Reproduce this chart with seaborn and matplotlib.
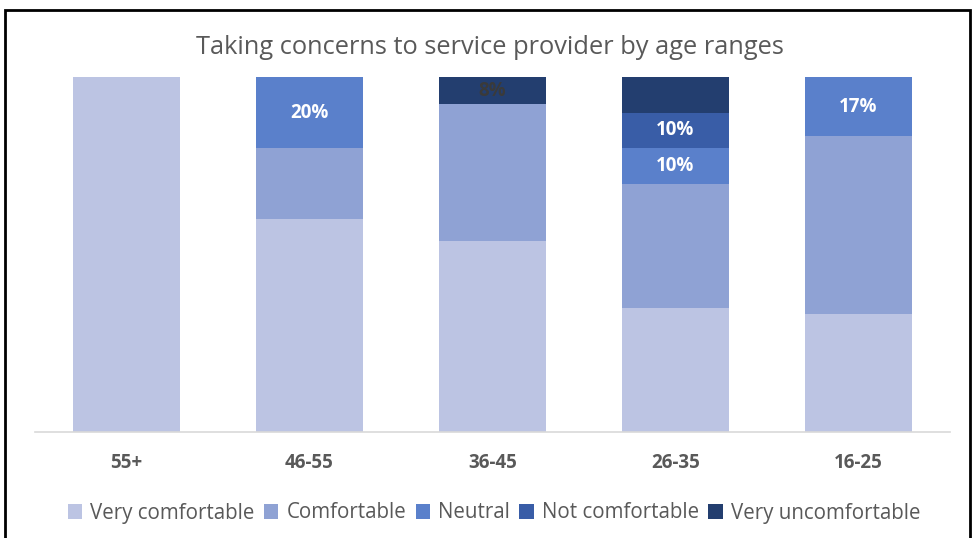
import matplotlib
matplotlib.use("Agg")
import matplotlib.pyplot as plt
from matplotlib.patches import Rectangle
import seaborn as sns
import pandas as pd

# Share of respondents (%) per age range and comfort level
categories = ["55+", "46-55", "36-45", "26-35", "16-25"]
very_comfortable = [100.0, 60.0, 53.8, 35.0, 33.3]
comfortable = [0.0, 20.0, 38.5, 35.0, 50.0]
neutral = [0.0, 20.0, 0.0, 10.0, 16.7]
not_comfortable = [0.0, 0.0, 0.0, 10.0, 0.0]
very_uncomfortable = [0.0, 0.0, 7.7, 10.0, 0.0]

series_names = ["Very comfortable", "Comfortable", "Neutral",
                "Not comfortable", "Very uncomfortable"]
series_values = [very_comfortable, comfortable, neutral,
                 not_comfortable, very_uncomfortable]
colors = ["#BCC4E3", "#8FA2D4", "#5A80CB", "#395DA7", "#233E6F"]

# segments that carry a data label: (series index, category index, text colour)
labelled = [(2, 1, "white"), (2, 3, "white"), (2, 4, "white"),
            (3, 3, "white"), (4, 2, "#3A3A3A")]

sns.set_theme(style="white")
plt.rcParams["font.family"] = ["Open Sans", "DejaVu Sans"]

fig = plt.figure(figsize=(9.73, 5.38), dpi=100)
ax = fig.add_axes([35 / 973, 1 - 432 / 538, 915 / 973, 355 / 538])

bottom = [0.0] * len(categories)
bottoms = []
for name, vals, col in zip(series_names, series_values, colors):
    df = pd.DataFrame({"age": categories, "pct": vals})
    sns.barplot(data=df, x="age", y="pct", order=categories, color=col,
                width=0.585, bottom=bottom, saturation=1, ax=ax,
                label=name, linewidth=0)
    bottoms.append(list(bottom))
    bottom = [b + v for b, v in zip(bottom, vals)]

for si, ci, tc in labelled:
    v = series_values[si][ci]
    y = bottoms[si][ci] + v / 2
    ax.text(ci, y, f"{v:.0f}%", ha="center", va="center", color=tc,
            fontsize=13.5, fontweight="bold")

ax.set_xlim(-0.5, 4.5)
ax.set_ylim(0, 100)
ax.set_yticks([])
ax.set_xlabel("")
ax.set_ylabel("")
for s in ["top", "left", "right"]:
    ax.spines[s].set_visible(False)
ax.spines["bottom"].set_color("#D9D9D9")
ax.spines["bottom"].set_linewidth(1.2)
ax.tick_params(axis="x", length=0, pad=15, labelsize=13.5, labelcolor="#595959")
for t in ax.get_xticklabels():
    t.set_fontweight("bold")

fig.text(490 / 973, 1 - 47 / 538, "Taking concerns to service provider by age ranges",
         ha="center", va="center", fontsize=18.3, color="#595959")

handles, labels = ax.get_legend_handles_labels()
ax.legend(handles, labels, loc="center", bbox_to_anchor=(494 / 973, 1 - 513 / 538),
          bbox_transform=fig.transFigure, ncol=5, frameon=False, fontsize=14.8,
          labelcolor="#595959", handlelength=0.7, handleheight=0.7,
          handletextpad=0.4, columnspacing=0.45)

# frame around the chart
fig.patches.append(Rectangle((5 / 973, -0.05), 965 / 973, 1.05 - 10 / 538,
                             transform=fig.transFigure, fill=False,
                             edgecolor="black", linewidth=2))

fig.savefig("out.png", dpi=100)
